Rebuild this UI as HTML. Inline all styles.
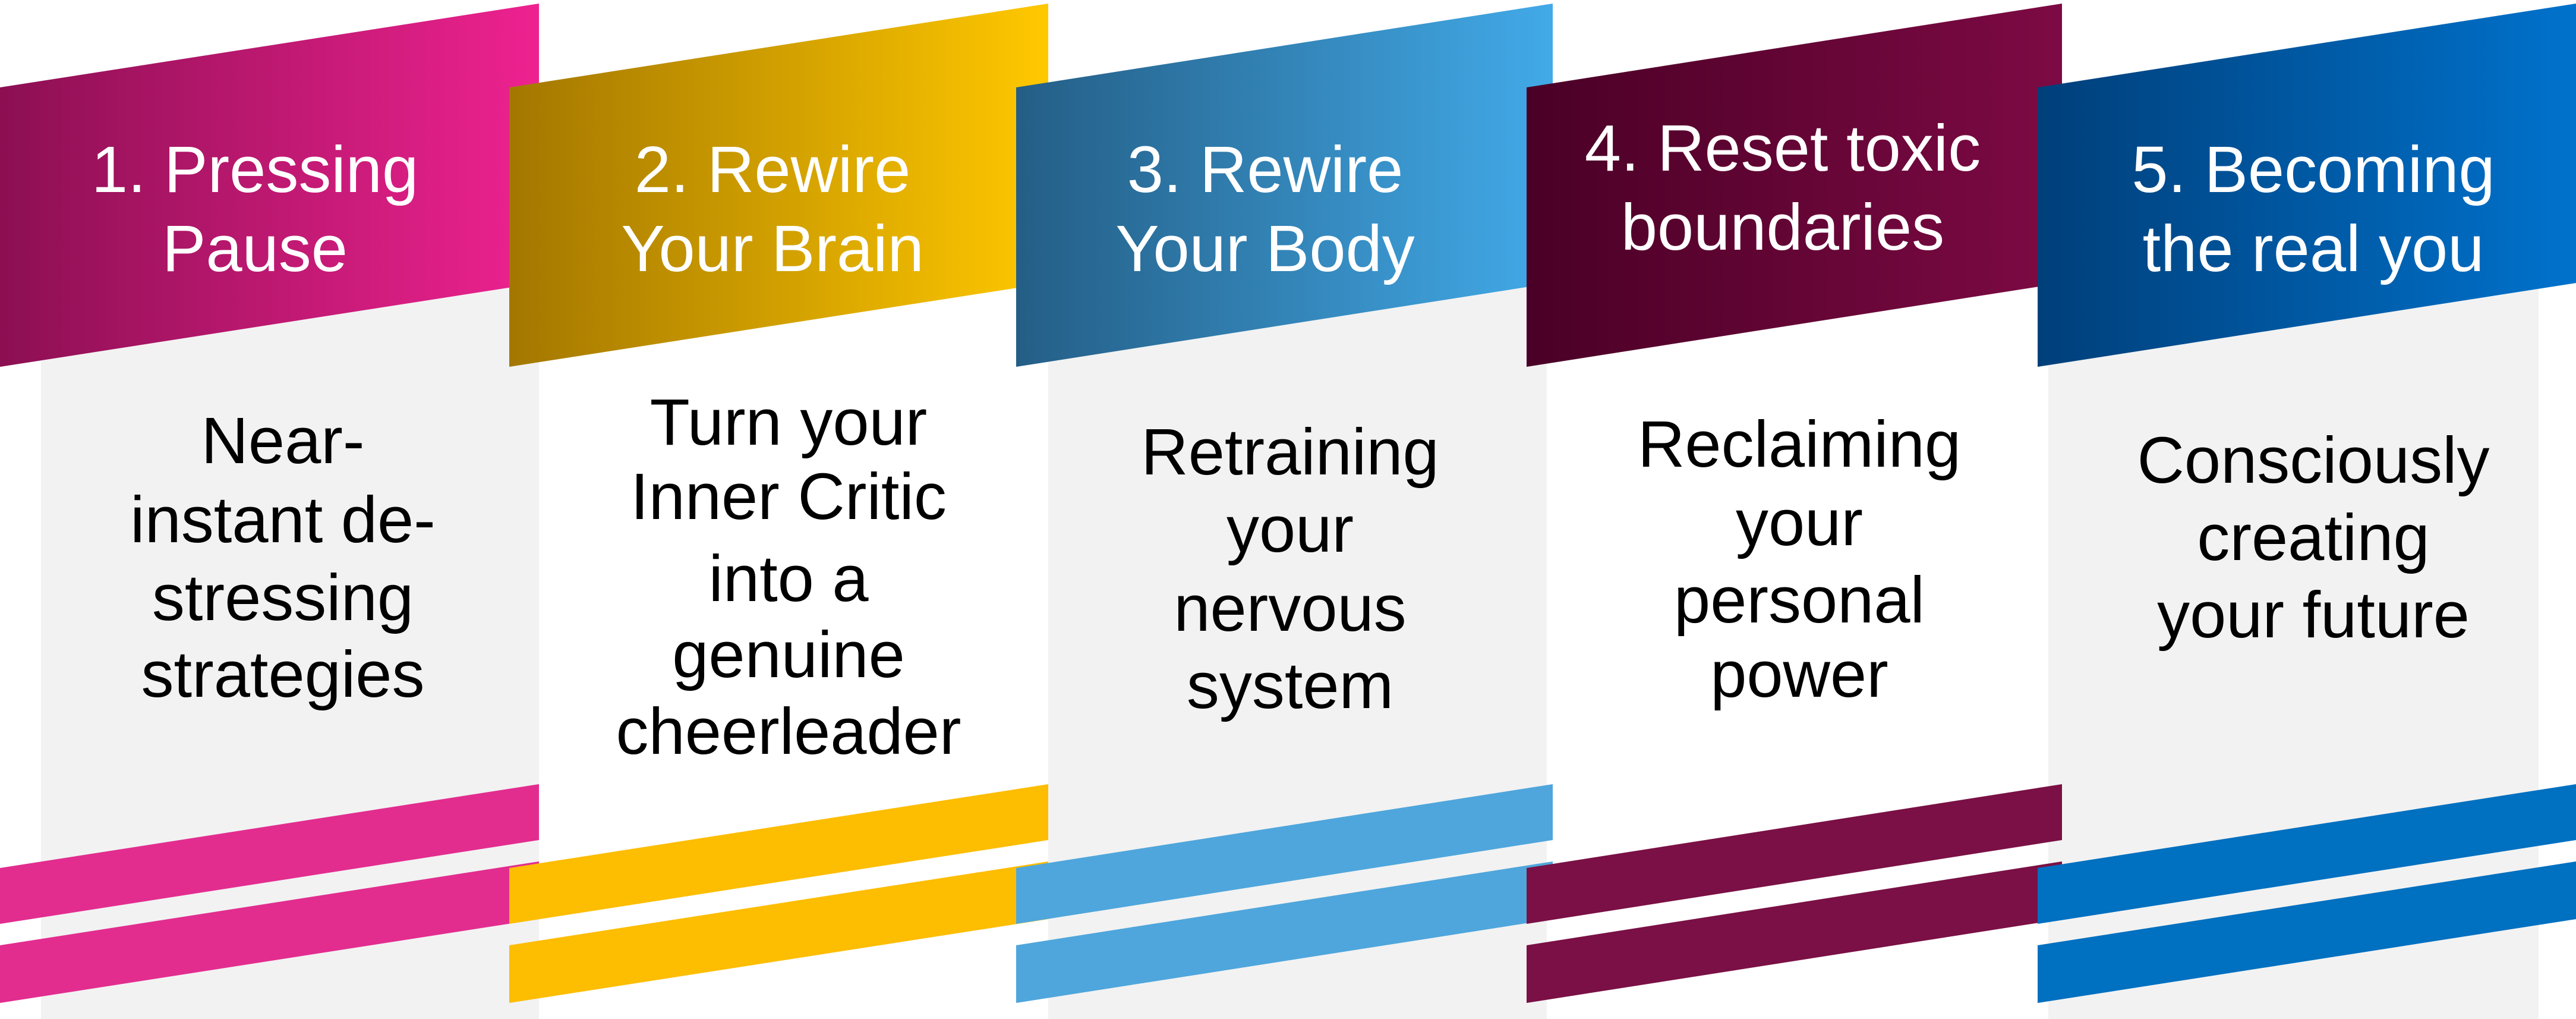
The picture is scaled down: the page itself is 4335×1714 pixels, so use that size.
<!DOCTYPE html>
<html><head><meta charset="utf-8"><style>
html,body{margin:0;padding:0;background:#fff;}
svg{display:block;}
text{font-family:"Liberation Sans",Arial,sans-serif;font-size:110px;text-anchor:middle;}
.h{fill:#fff;}
.b{fill:#000;}
</style></head><body>
<svg width="4335" height="1714" viewBox="0 0 4335 1714" xmlns="http://www.w3.org/2000/svg">
<defs>
<linearGradient id="g1" x1="0" x2="1" y1="0" y2="0"><stop offset="0" stop-color="#8C0F52"/><stop offset="1" stop-color="#EE2290"/></linearGradient>
<linearGradient id="g2" x1="0" x2="1" y1="0" y2="0"><stop offset="0" stop-color="#A37700"/><stop offset="1" stop-color="#FFC800"/></linearGradient>
<linearGradient id="g3" x1="0" x2="1" y1="0" y2="0"><stop offset="0" stop-color="#245E86"/><stop offset="1" stop-color="#42AAE8"/></linearGradient>
<linearGradient id="g4" x1="0" x2="1" y1="0" y2="0"><stop offset="0" stop-color="#4A0026"/><stop offset="1" stop-color="#7D0A44"/></linearGradient>
<linearGradient id="g5" x1="0" x2="1" y1="0" y2="0"><stop offset="0" stop-color="#003F7A"/><stop offset="1" stop-color="#0072CC"/></linearGradient>
</defs>
<!-- body columns -->
<rect x="69" y="470" width="838" height="1244" fill="#F2F2F2"/>
<rect x="1764" y="470" width="839" height="1244" fill="#F2F2F2"/>
<rect x="3447" y="470" width="825" height="1244" fill="#F2F2F2"/>

<!-- col1 -->
<polygon points="0,147 907,6 907,476 0,617" fill="url(#g1)"/>
<polygon points="0,1460 907,1319 907,1413 0,1554" fill="#E22D8F"/>
<polygon points="0,1590 907,1449 907,1546 0,1687" fill="#E22D8F"/>
<!-- col2 -->
<polygon points="857,147 1764,6 1764,476 857,617" fill="url(#g2)"/>
<polygon points="857,1460 1764,1319 1764,1413 857,1554" fill="#FDBD00"/>
<polygon points="857,1590 1764,1449 1764,1546 857,1687" fill="#FDBD00"/>
<!-- col3 -->
<polygon points="1710,147 2613,6 2613,476 1710,617" fill="url(#g3)"/>
<polygon points="1710,1460 2613,1319 2613,1413 1710,1554" fill="#4FA6DC"/>
<polygon points="1710,1590 2613,1449 2613,1546 1710,1687" fill="#4FA6DC"/>
<!-- col4 -->
<polygon points="2569,147 3470,6 3470,476 2569,617" fill="url(#g4)"/>
<polygon points="2569,1460 3470,1319 3470,1413 2569,1554" fill="#7A1045"/>
<polygon points="2569,1590 3470,1449 3470,1546 2569,1687" fill="#7A1045"/>
<!-- col5 -->
<polygon points="3429,147 4335,6 4335,476 3429,617" fill="url(#g5)"/>
<polygon points="3429,1460 4335,1319 4335,1413 3429,1554" fill="#0070C0"/>
<polygon points="3429,1590 4335,1449 4335,1546 3429,1687" fill="#0070C0"/>

<!-- header text -->
<text class="h" x="429" y="323">1. Pressing</text>
<text class="h" x="429" y="456">Pause</text>
<text class="h" x="1300" y="323">2. Rewire</text>
<text class="h" x="1300" y="456">Your Brain</text>
<text class="h" x="2129" y="323">3. Rewire</text>
<text class="h" x="2129" y="456">Your Body</text>
<text class="h" x="3000" y="287">4. Reset toxic</text>
<text class="h" x="3000" y="420">boundaries</text>
<text class="h" x="3893" y="323">5. Becoming</text>
<text class="h" x="3893" y="456">the real you</text>

<!-- body text -->
<text class="b" x="476" y="779">Near-</text>
<text class="b" x="476" y="912">instant de-</text>
<text class="b" x="476" y="1043">stressing</text>
<text class="b" x="476" y="1172">strategies</text>

<text class="b" x="1327" y="748">Turn your</text>
<text class="b" x="1327" y="873">Inner Critic</text>
<text class="b" x="1327" y="1011">into a</text>
<text class="b" x="1327" y="1139">genuine</text>
<text class="b" x="1327" y="1268">cheerleader</text>

<text class="b" x="2171" y="798">Retraining</text>
<text class="b" x="2171" y="928">your</text>
<text class="b" x="2171" y="1061">nervous</text>
<text class="b" x="2171" y="1191">system</text>

<text class="b" x="3028" y="785">Reclaiming</text>
<text class="b" x="3028" y="917">your</text>
<text class="b" x="3028" y="1047">personal</text>
<text class="b" x="3028" y="1172">power</text>

<text class="b" x="3893" y="812">Consciously</text>
<text class="b" x="3893" y="942">creating</text>
<text class="b" x="3893" y="1072">your future</text>
</svg>
</body></html>
